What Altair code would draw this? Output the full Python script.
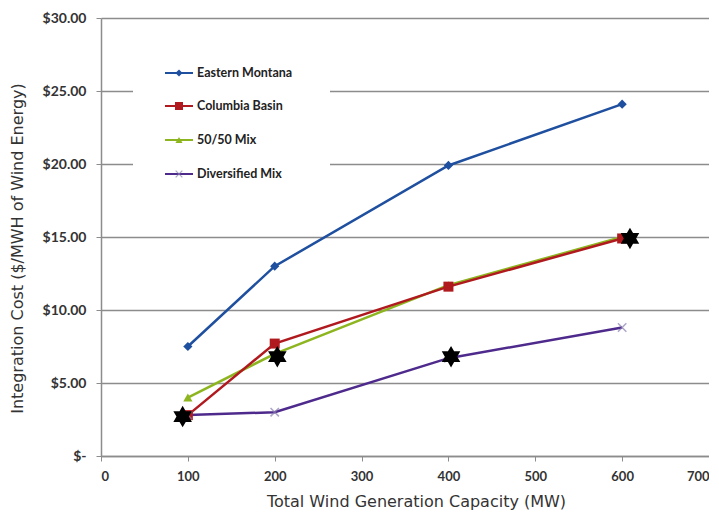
import altair as alt
import pandas as pd

# ---- data ----
capacity_mw = [100, 200, 400, 600]
series_names = ["Eastern Montana", "Columbia Basin", "50/50 Mix", "Diversified Mix"]
eastern_montana = [7.5, 13.0, 19.9, 24.1]
columbia_basin = [2.8, 7.7, 11.6, 14.9]
mix_50_50 = [4.0, 7.0, 11.7, 15.0]
diversified_mix = [2.8, 3.0, 6.7, 8.8]
star_x = [94, 203, 403, 609]
star_y = [2.7, 6.8, 6.8, 14.9]
x_ticks = [0, 100, 200, 300, 400, 500, 600, 700]
y_ticks = [0, 5, 10, 15, 20, 25, 30]

colors = ["#1f4f9f", "#b01a1f", "#8db51f", "#4e2a8c"]
shapes = ["diamond", "square", "triangle-up", "M-1,-1L1,1M-1,1L1,-1"]

values = [eastern_montana, columbia_basin, mix_50_50, diversified_mix]
rows = []
for name, vals in zip(series_names, values):
    for x, v in zip(capacity_mw, vals):
        rows.append({"series": name, "mw": x, "cost": v})
df = pd.DataFrame(rows)
stars = pd.DataFrame({"mw": star_x, "cost": star_y})

W, H = 608, 438
LABEL_FONT = "Lato"
TITLE_FONT = "DejaVu Sans"

x_scale = alt.Scale(domain=[0, 700], nice=False)
y_scale = alt.Scale(domain=[0, 30], nice=False)

x_enc = alt.X(
    "mw:Q", scale=x_scale,
    axis=alt.Axis(
        values=x_ticks, grid=False, title="Total Wind Generation Capacity (MW)",
        labelFont=LABEL_FONT, labelFontWeight="bold", labelFontSize=13, labelColor="#333333",
        labelPadding=9, tickSize=5, tickColor="#8c8c8c", domainColor="#8c8c8c", domainWidth=1.5,
        titleFont=TITLE_FONT, titleFontWeight="normal", titleFontSize=16, titleColor="#333333",
        titleX=315, titleY=45, titleBaseline="middle", titleAnchor="middle",
    ),
)
y_enc = alt.Y(
    "cost:Q", scale=y_scale,
    axis=alt.Axis(
        values=y_ticks, grid=True, gridColor="#8c8c8c", gridWidth=1.5,
        title="Integration Cost ($/MWH of Wind Energy)",
        labelExpr="datum.value == 0 ? '$-' : '$' + format(datum.value, '.2f')",
        labelFont=LABEL_FONT, labelFontWeight="bold", labelFontSize=14, labelColor="#333333",
        labelPadding=10, tickSize=5, tickColor="#8c8c8c", domainColor="#8c8c8c", domainWidth=1.5,
        titleFont=TITLE_FONT, titleFontWeight="normal", titleFontSize=16, titleColor="#333333",
        titleX=-84, titleY=230, titleAngle=-90, titleBaseline="middle", titleAnchor="middle",
    ),
)

base = alt.Chart(df)

# white legend background (covers gridlines)
legend_bg = alt.Chart(pd.DataFrame({"a": [0]})).mark_rect(fill="white").encode(
    x=alt.value(32), x2=alt.value(229), y=alt.value(28), y2=alt.value(172)
)

draw_order = ["Eastern Montana", "50/50 Mix", "Columbia Basin", "Diversified Mix"]
line_layers = []
for name in draw_order:
    i = series_names.index(name)
    line_layers.append(
        base.transform_filter(alt.datum.series == name).mark_line(strokeWidth=2.5, color=colors[i]).encode(
            x=x_enc, y=y_enc
        )
    )

point_layers = []
for name in draw_order:
    i = series_names.index(name)
    if i == 3:
        pt = base.transform_filter(alt.datum.series == name).mark_point(
            shape=shapes[i], filled=False, stroke="#8a7fb0", strokeWidth=1.5, size=70
        )
    else:
        pt = base.transform_filter(alt.datum.series == name).mark_point(
            shape=shapes[i], filled=True, color=colors[i], opacity=1, size=85 if i != 1 else 100
        )
    point_layers.append(pt.encode(x="mw:Q", y="cost:Q"))

hexagram = "M0,-1L0.289,-0.5L0.866,-0.5L0.577,0L0.866,0.5L0.289,0.5L0,1L-0.289,0.5L-0.866,0.5L-0.577,0L-0.866,-0.5L-0.289,-0.5Z"
star_layer = alt.Chart(stars).mark_point(
    shape=hexagram, filled=True, color="#000000", opacity=1, size=460
).encode(x="mw:Q", y="cost:Q")

# manual legend
legend_layers = []
leg_y = [55, 88, 122, 156]
one = pd.DataFrame({"a": [0]})
for i, name in enumerate(series_names):
    ly = leg_y[i]
    legend_layers.append(
        alt.Chart(one).mark_rule(strokeWidth=2, color=colors[i]).encode(
            x=alt.value(64), x2=alt.value(92), y=alt.value(ly)
        )
    )
    if i == 3:
        legend_layers.append(
            alt.Chart(one).mark_point(shape=shapes[i], filled=False, stroke="#8a7fb0", strokeWidth=1.2, size=45).encode(
                x=alt.value(78), y=alt.value(ly)
            )
        )
    else:
        legend_layers.append(
            alt.Chart(one).mark_point(shape=shapes[i], filled=True, color=colors[i], opacity=1, size=50 if i != 1 else 65).encode(
                x=alt.value(78), y=alt.value(ly)
            )
        )
    legend_layers.append(
        alt.Chart(pd.DataFrame({"label": [name]})).mark_text(
            align="left", baseline="middle", font=LABEL_FONT, fontWeight="bold", fontSize=12.5, color="#222222"
        ).encode(x=alt.value(96), y=alt.value(ly), text="label:N")
    )

chart = alt.layer(
    legend_bg, *line_layers, *point_layers, star_layer, *legend_layers
).properties(
    width=W, height=H,
    autosize=alt.AutoSizeParams(type="none"),
    padding={"left": 93, "top": 10, "right": 0, "bottom": 58},
    background="white",
).configure_view(stroke=None)

chart.save("out.html", embed_options={"renderer": "svg", "actions": False})
